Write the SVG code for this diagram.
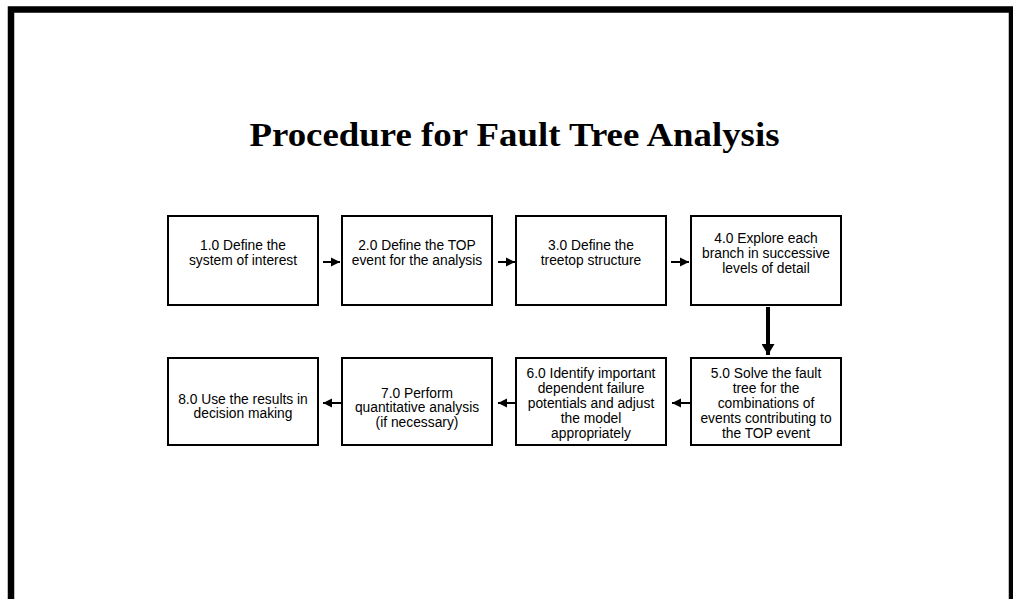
<svg xmlns="http://www.w3.org/2000/svg" width="1013" height="599" viewBox="0 0 1013 599">
<style>
.box{fill:#fff;stroke:#000;stroke-width:2}
.lbl{font-family:"Liberation Sans",Arial,sans-serif;font-size:13.8px;fill:#000;text-anchor:middle}
.title{font-family:"Liberation Serif","Times New Roman",serif;font-size:33px;font-weight:bold;fill:#000;text-anchor:middle}
.ln{stroke:#000;stroke-width:2;fill:none}
.lnv{stroke:#000;stroke-width:4;fill:none}
</style>
<defs>
<marker id="ah" markerUnits="userSpaceOnUse" markerWidth="10" markerHeight="10" refX="9" refY="5" orient="auto">
<path d="M0,0.5 L9,5 L0,9.5 Z" fill="#000"/>
</marker>
<marker id="ahv" markerUnits="userSpaceOnUse" markerWidth="12" markerHeight="13" refX="11" refY="6.5" orient="auto">
<path d="M0,0 L11,6.5 L0,13 Z" fill="#000"/>
</marker>
</defs>
<rect width="1013" height="599" fill="#fff"/>
<path d="M11,605 V9.5 H1012 V605" fill="none" stroke="#000" stroke-width="6.5"/>
<text class="title" x="514.5" y="146" textLength="530" lengthAdjust="spacingAndGlyphs">Procedure for Fault Tree Analysis</text>

<g id="connectors">
<line class="ln" x1="323" y1="262" x2="340" y2="262" marker-end="url(#ah)"/>
<line class="ln" x1="498" y1="262" x2="515" y2="262" marker-end="url(#ah)"/>
<line class="ln" x1="671" y1="262" x2="689" y2="262" marker-end="url(#ah)"/>
<line class="lnv" x1="768" y1="307" x2="768" y2="355" marker-end="url(#ahv)"/>
<line class="ln" x1="690" y1="403" x2="672" y2="403" marker-end="url(#ah)"/>
<line class="ln" x1="515" y1="403" x2="498" y2="403" marker-end="url(#ah)"/>
<line class="ln" x1="341" y1="403" x2="323" y2="403" marker-end="url(#ah)"/>
</g>

<g id="n1">
<rect class="box" x="168" y="216" width="150" height="89"/>
<text class="lbl" x="243" y="249.5">1.0 Define the</text>
<text class="lbl" x="243" y="264.5">system of interest</text>
</g>
<g id="n2">
<rect class="box" x="342" y="216" width="150" height="89"/>
<text class="lbl" x="417" y="249.5">2.0 Define the TOP</text>
<text class="lbl" x="417" y="264.5">event for the analysis</text>
</g>
<g id="n3">
<rect class="box" x="516" y="216" width="150" height="89"/>
<text class="lbl" x="591" y="249.5">3.0 Define the</text>
<text class="lbl" x="591" y="264.5">treetop structure</text>
</g>
<g id="n4">
<rect class="box" x="691" y="216" width="150" height="89"/>
<text class="lbl" x="766" y="242.5">4.0 Explore each</text>
<text class="lbl" x="766" y="257.5">branch in successive</text>
<text class="lbl" x="766" y="272.5">levels of detail</text>
</g>
<g id="n5">
<rect class="box" x="691" y="358" width="150" height="87"/>
<text class="lbl" x="766" y="377.5">5.0 Solve the fault</text>
<text class="lbl" x="766" y="392.5">tree for the</text>
<text class="lbl" x="766" y="407.5">combinations of</text>
<text class="lbl" x="766" y="422.5">events contributing to</text>
<text class="lbl" x="766" y="437.5">the TOP event</text>
</g>
<g id="n6">
<rect class="box" x="516" y="358" width="150" height="87"/>
<text class="lbl" x="591" y="377.5">6.0 Identify important</text>
<text class="lbl" x="591" y="392.5">dependent failure</text>
<text class="lbl" x="591" y="407.5">potentials and adjust</text>
<text class="lbl" x="591" y="422.5">the model</text>
<text class="lbl" x="591" y="437.5">appropriately</text>
</g>
<g id="n7">
<rect class="box" x="342" y="358" width="150" height="87"/>
<text class="lbl" x="417" y="397.5">7.0 Perform</text>
<text class="lbl" x="417" y="412">quantitative analysis</text>
<text class="lbl" x="417" y="426.5">(if necessary)</text>
</g>
<g id="n8">
<rect class="box" x="168" y="358" width="150" height="87"/>
<text class="lbl" x="243" y="403.5">8.0 Use the results in</text>
<text class="lbl" x="243" y="418">decision making</text>
</g>
</svg>
